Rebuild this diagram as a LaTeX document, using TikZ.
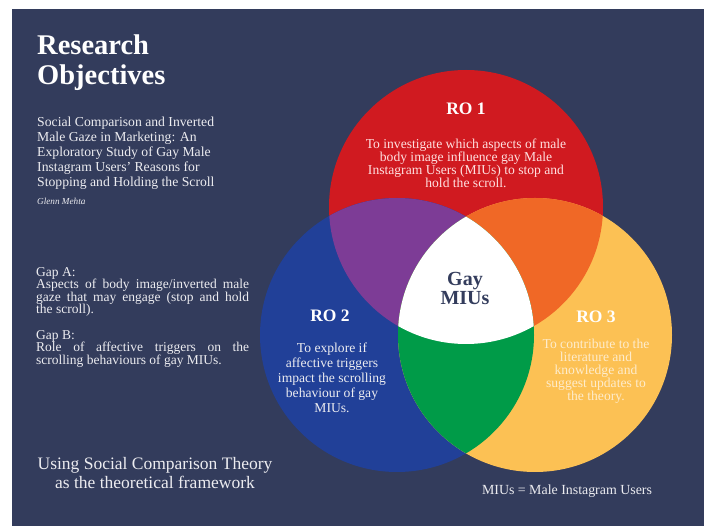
\documentclass[tikz,border=0pt]{standalone}
\usepackage{fontspec}
\setmainfont{Liberation Serif}
\usepackage{tikz}
\definecolor{navy}{RGB}{51,60,92}
\definecolor{roRed}{RGB}{208,26,32}
\definecolor{roBlue}{RGB}{33,64,152}
\definecolor{roYellow}{RGB}{252,193,84}
\definecolor{roPurple}{RGB}{125,60,150}
\definecolor{roOrange}{RGB}{240,104,38}
\definecolor{roGreen}{RGB}{0,155,72}
\definecolor{paleText}{RGB}{236,236,240}
\tikzstyle{plain}=[inner sep=0pt, text=paleText]
\tikzstyle{heading}=[inner sep=0pt, text=white
,font=\bfseries\fontsize{17.5}{20}\selectfont
]
\tikzstyle{aim}=[plain, align=center, font=\fontsize{13.6}{13}\selectfont]

\begin{document}
\begin{tikzpicture}[x=1pt,y=-1pt]
    \useasboundingbox (0,0) rectangle (705,526);
    \fill[white] (0,0) rectangle (705,526);
    \fill[navy] (12,9) rectangle (704,526);

    % First the three circles, then their overlaps on top
    \coordinate (ro1) at (466,207);
    \coordinate (ro2) at (397,335);
    \coordinate (ro3) at (535,335);
    \foreach \name/\col in {ro1/roRed, ro2/roBlue, ro3/roYellow}
        \fill[\col] (\name) circle (137);
    \begin{scope}
        \clip (ro1) circle (137);
        \fill[roPurple] (ro2) circle (137);
        \fill[roOrange] (ro3) circle (137);
    \end{scope}
    \begin{scope}
        \clip (ro2) circle (137);
        \fill[roGreen] (ro3) circle (137);
        \clip (ro1) circle (137);
        \fill[white] (ro3) circle (137);
    \end{scope}

    % Left column of text
    \node[plain, text=white, anchor=north west, align=left
        ,font=\bfseries\fontsize{28.5}{30}\selectfont] (title) at (37,35) {Research\\Objectives};
    \node[plain, anchor=north west, align=left
        ,font=\fontsize{13.7}{15}\selectfont] (study) at (37,117)
        {Social Comparison and Inverted\\Male Gaze in Marketing: An\\Exploratory Study of Gay Male\\Instagram Users' Reasons for\\Stopping and Holding the Scroll};
    \node[plain, anchor=north west, font=\itshape\fontsize{9.2}{10}\selectfont] (author) at (37,198) {Glenn Mehta};
    \node[plain, anchor=north west, text width=213pt, align=justify
        ,font=\fontsize{13.5}{12.6}\selectfont] (gaps) at (36,267)
        {Gap A:\\
        Aspects of body image/inverted male\linebreak gaze that may engage (stop and hold\linebreak the scroll).\par
        \vspace{12.6pt}
        Gap B:\\
        Role of affective triggers on the\linebreak scrolling behaviours of gay MIUs.};
    \node[plain, align=center, font=\fontsize{17.5}{19}\selectfont] (theory) at (155,473)
        {Using Social Comparison Theory\\as the theoretical framework};
    \node[plain, font=\fontsize{13.9}{15}\selectfont] (key) at (567,491) {MIUs = Male Instagram Users};

    % Labels inside the circles
    \node[heading] (ro1label) at (466,109) {RO 1};
    \node[aim, text=red!12!white] (ro1text) at (466,163)
        {To investigate which aspects of male\\body image influence gay Male\\Instagram Users (MIUs) to stop and\\hold the scroll.};
    \node[heading] (ro2label) at (330,316) {RO 2};
    \node[aim, font=\fontsize{13.6}{15}\selectfont] (ro2text) at (332,378)
        {To explore if\\affective triggers\\impact the scrolling\\behaviour of gay\\MIUs.};
    \node[heading] (ro3label) at (596,317) {RO 3};
    \node[aim, text=roYellow!30!white] (ro3text) at (596,371)
        {To contribute to the\\literature and\\knowledge and\\suggest updates to\\the theory.};
    \node[heading, text=navy, align=center, font=\bfseries\fontsize{20}{19}\selectfont] (core) at (465,288) {Gay\\MIUs};
\end{tikzpicture}
\end{document}
